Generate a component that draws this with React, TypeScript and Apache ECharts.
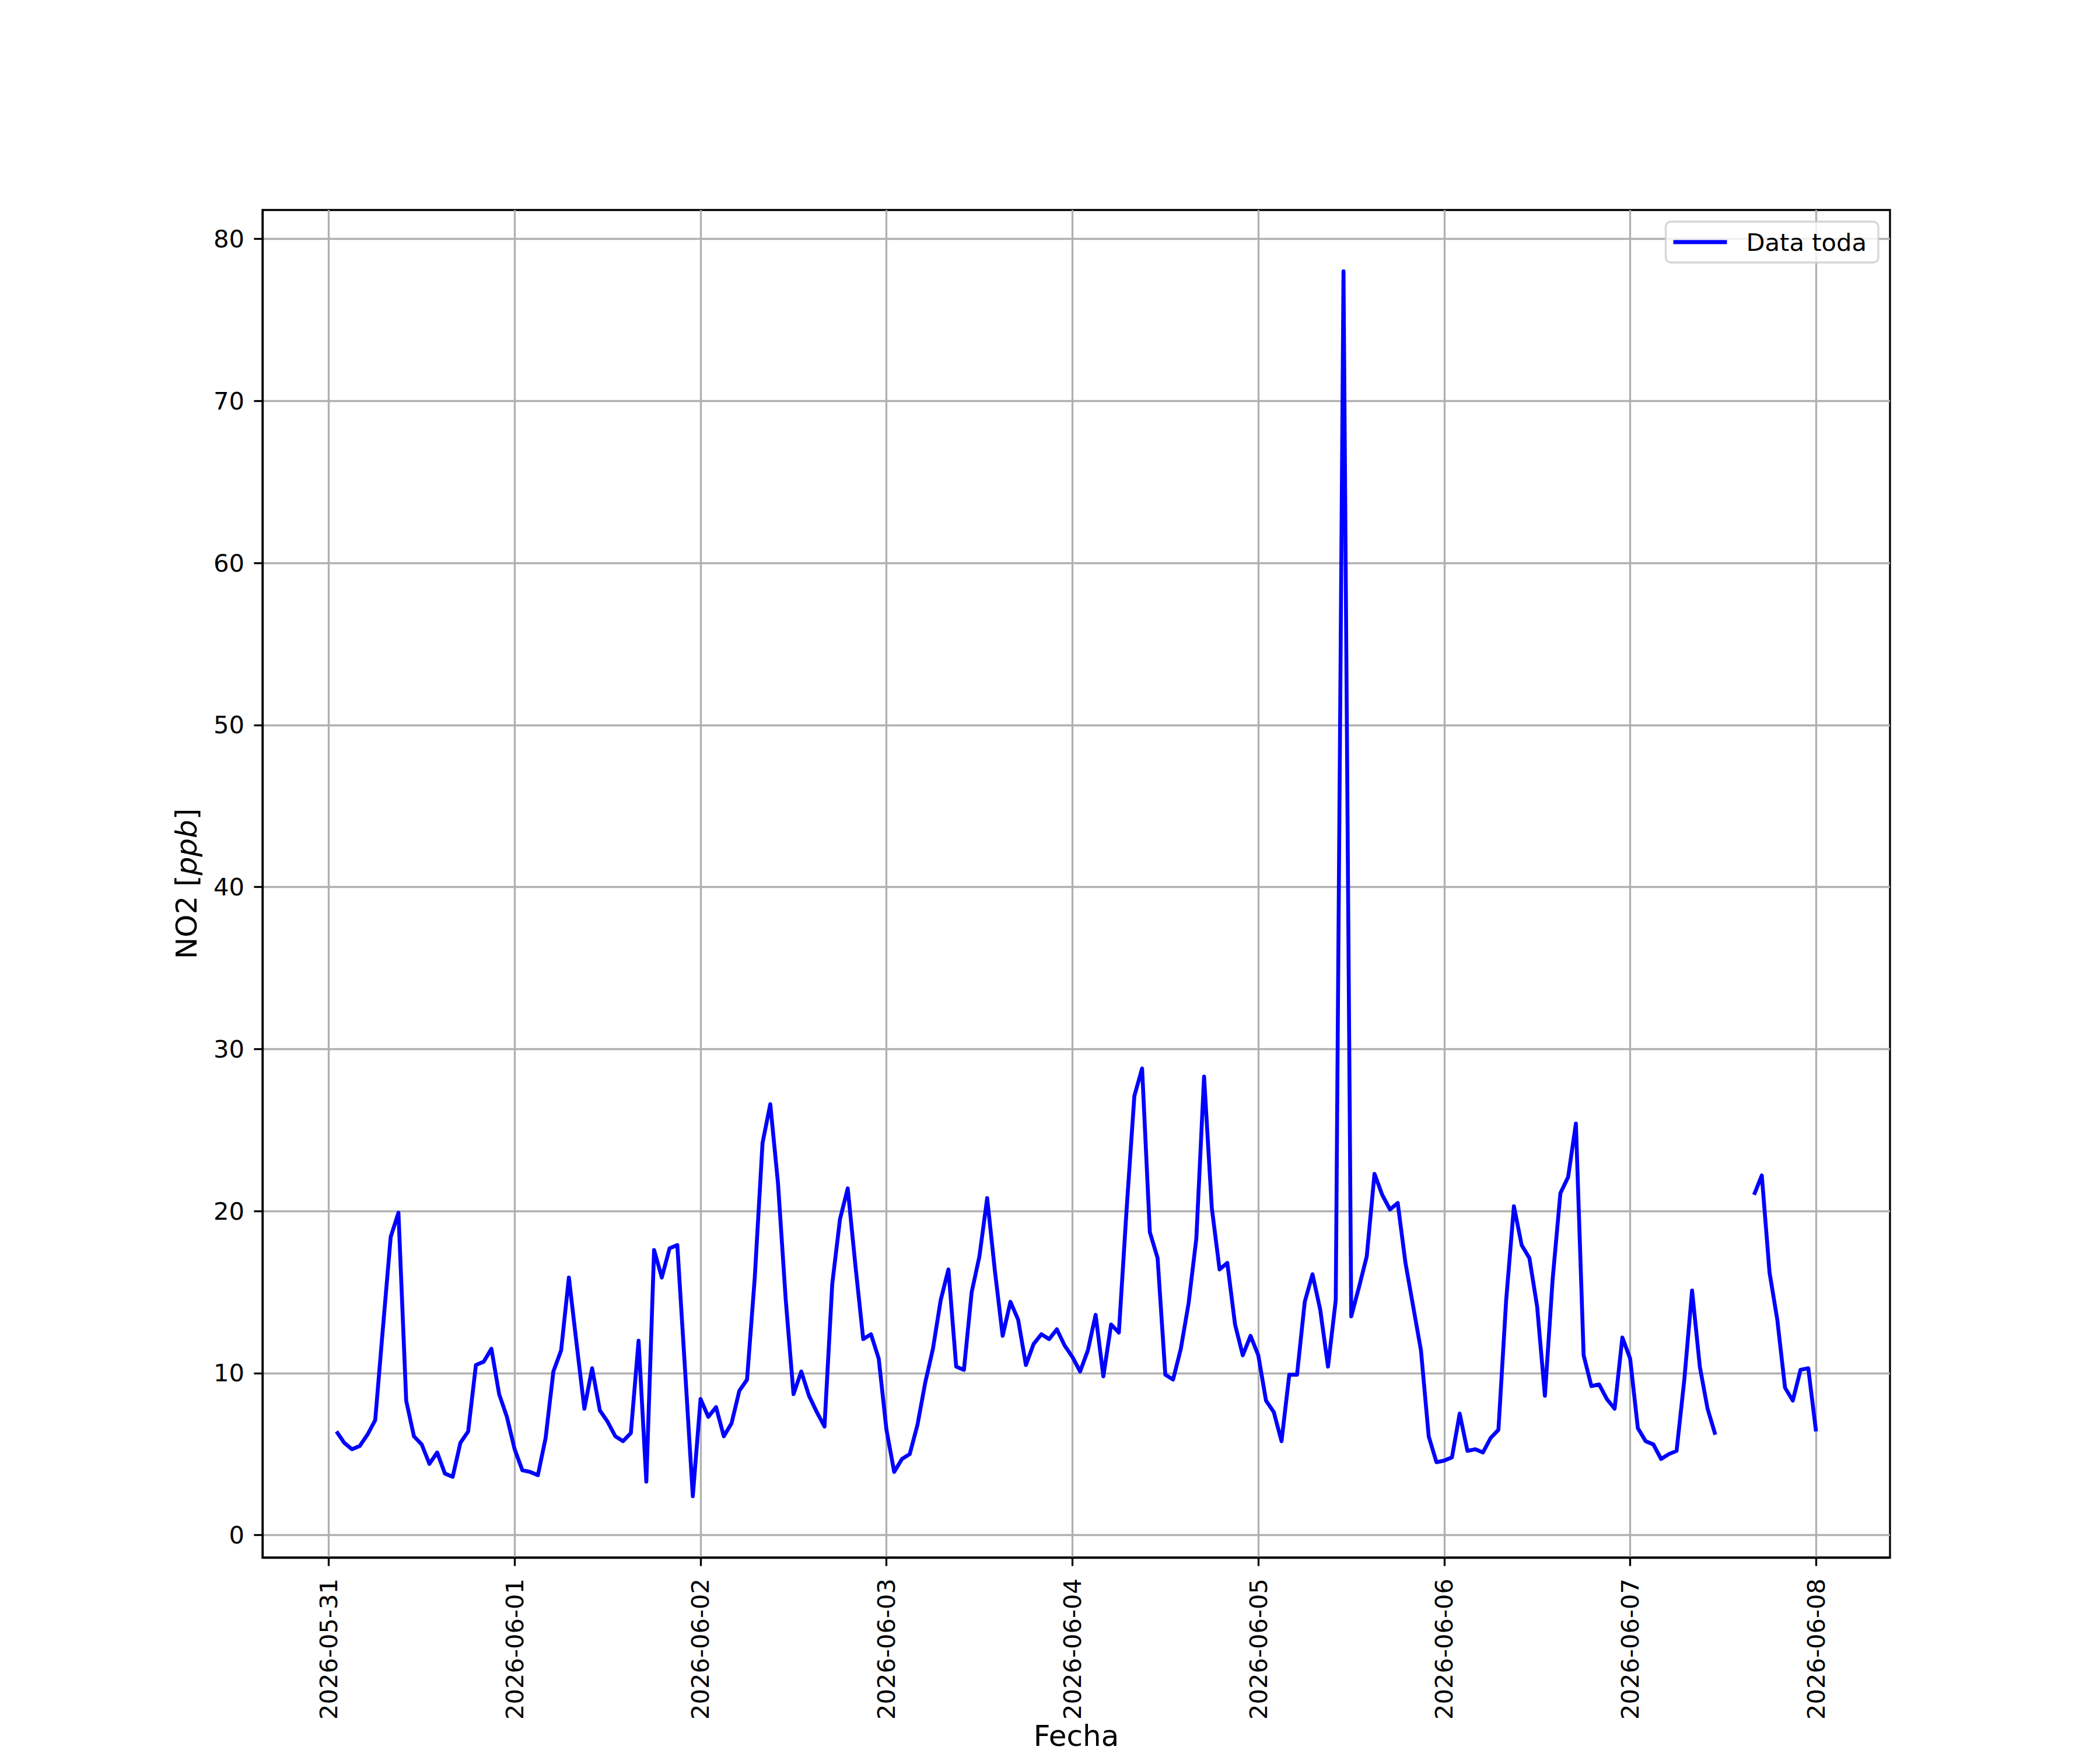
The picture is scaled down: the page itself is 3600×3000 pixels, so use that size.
import React, { useEffect, useRef } from 'react';
import * as echarts from 'echarts';

const HOUR = 3600000;
const firstTime = Date.UTC(2026, 4, 31, 1); // 2026-05-31 01:00 UTC, hourly samples

// hourly NO2 values, hours 01..24 of each day
const day0531 = [6.4, 5.7, 5.3, 5.5, 6.2, 7.1, 12.8, 18.4, 19.9, 8.3, 6.1, 5.6, 4.4, 5.1, 3.8, 3.6, 5.7, 6.4, 10.5, 10.7, 11.5, 8.7, 7.3, 5.3];
const day0601 = [4.0, 3.9, 3.7, 6.0, 10.1, 11.4, 15.9, 11.8, 7.8, 10.3, 7.7, 7.0, 6.1, 5.8, 6.3, 12.0, 3.3, 17.6, 15.9, 17.7, 17.9, 10.2, 2.4, 8.4];
const day0602 = [7.3, 7.9, 6.1, 6.9, 8.9, 9.6, 15.9, 24.2, 26.6, 21.7, 14.5, 8.7, 10.1, 8.6, 7.6, 6.7, 15.5, 19.5, 21.4, 16.6, 12.1, 12.4, 10.9, 6.5];
const day0603 = [3.9, 4.7, 5.0, 6.8, 9.4, 11.5, 14.5, 16.4, 10.4, 10.2, 15.0, 17.2, 20.8, 16.3, 12.3, 14.4, 13.3, 10.5, 11.8, 12.4, 12.1, 12.7, 11.7, 11.0];
const day0604 = [10.1, 11.4, 13.6, 9.8, 13.0, 12.5, 20.1, 27.1, 28.8, 18.7, 17.1, 9.9, 9.6, 11.5, 14.3, 18.3, 28.3, 20.2, 16.4, 16.8, 13.0, 11.1, 12.3, 11.1];
const day0605 = [8.3, 7.6, 5.8, 9.9, 9.9, 14.4, 16.1, 13.9, 10.4, 14.5, 78.0, 13.5, 15.3, 17.2, 22.3, 21.0, 20.1, 20.5, 16.8, 14.1, 11.4, 6.1, 4.5, 4.6];
const day0606 = [4.8, 7.5, 5.2, 5.3, 5.1, 6.0, 6.5, 14.5, 20.3, 17.9, 17.1, 14.1, 8.6, 15.8, 21.1, 22.1, 25.4, 11.1, 9.2, 9.3, 8.4, 7.8, 12.2, 10.9];
const day0607 = [6.6, 5.8, 5.6, 4.7, 5.0, 5.2, 9.6, 15.1, 10.4, 7.8, 6.2, null, null, null, null, 21.0, 22.2, 16.2, 13.3, 9.1, 8.3, 10.2, 10.3, 6.4];

const tickDays = ['2026-05-31', '2026-06-01', '2026-06-02', '2026-06-03', '2026-06-04', '2026-06-05', '2026-06-06', '2026-06-07', '2026-06-08'];
const yTicks = [0, 10, 20, 30, 40, 50, 60, 70, 80];
const seriesName = 'Data toda';
const xTitle = 'Fecha';

const values: (number | null)[] = [...day0531, ...day0601, ...day0602, ...day0603, ...day0604, ...day0605, ...day0606, ...day0607];

export default function App() {
  const ref = useRef<HTMLDivElement>(null);
  useEffect(() => {
    const chart = echarts.init(ref.current!, null, { renderer: 'svg' });
    const data = values.map((v, i) => [firstTime + i * HOUR, v]);
    const lastTime = firstTime + (values.length - 1) * HOUR;
    const xPad = (lastTime - firstTime) * 0.05;
    const nums = values.filter((v) => v !== null) as number[];
    const vMin = Math.min(...nums);
    const vMax = Math.max(...nums);
    const yPad = (vMax - vMin) * 0.05;
    const font = 'DejaVu Sans';
    const tickTs = tickDays.map((d) => Date.parse(d + 'T00:00:00Z'));

    chart.setOption({
      animation: false,
      backgroundColor: '#ffffff',
      textStyle: { fontFamily: font },
      grid: {
        left: 450,
        right: 360,
        top: 360,
        bottom: 330,
        show: true,
        borderColor: '#000000',
        borderWidth: 3.3,
        backgroundColor: 'transparent',
        containLabel: false,
        outerBoundsMode: 'none',
      },
      legend: {
        show: true,
        right: 380,
        top: 380,
        orient: 'vertical',
        icon: 'rect',
        itemWidth: 92,
        itemHeight: 7,
        padding: [14, 20, 14, 13],
        backgroundColor: 'rgba(255,255,255,0.8)',
        borderColor: 'rgba(204,204,204,0.8)',
        borderWidth: 3.3,
        borderRadius: 9,
        textStyle: {
          fontFamily: font,
          fontSize: 41.67,
          color: '#000000',
          padding: [0, 0, 0, 28],
        },
        data: [seriesName],
      },
      xAxis: {
        type: 'value',
        scale: true,
        min: firstTime - xPad,
        max: lastTime + xPad,
        name: xTitle,
        nameLocation: 'middle',
        nameGap: 284,
        nameMoveOverlap: false,
        nameTextStyle: { fontFamily: font, fontSize: 50, lineHeight: 44, color: '#000000', verticalAlign: 'top' },
        axisLine: { show: true, onZero: false, lineStyle: { color: '#000000', width: 3.3 } },
        axisTick: {
          show: true,
          length: 14.6,
          lineStyle: { color: '#000000', width: 3.3 },
          customValues: tickTs,
        },
        axisLabel: {
          show: true,
          rotate: 90,
          margin: 36,
          fontFamily: font,
          fontSize: 41.67,
          color: '#000000',
          customValues: tickTs,
          formatter: (v: number) => new Date(v).toISOString().slice(0, 10),
        },
        splitLine: { show: true, lineStyle: { color: '#b0b0b0', width: 3.3 } },
      },
      yAxis: {
        type: 'value',
        min: vMin - yPad,
        max: vMax + yPad,
        name: '{a|NO2 [}{b|ppb}{a|]}',
        nameLocation: 'middle',
        nameGap: 105,
        nameRotate: 90,
        nameMoveOverlap: false,
        nameTextStyle: {
          fontFamily: font,
          fontSize: 50,
          color: '#000000',
          rich: {
            a: { fontFamily: font, fontSize: 50, color: '#000000' },
            b: { fontFamily: font, fontSize: 50, color: '#000000', fontStyle: 'italic' },
          },
        },
        axisLine: { show: true, onZero: false, lineStyle: { color: '#000000', width: 3.3 } },
        axisTick: {
          show: true,
          length: 14.6,
          lineStyle: { color: '#000000', width: 3.3 },
          customValues: yTicks,
        },
        axisLabel: {
          show: true,
          margin: 31,
          fontFamily: font,
          fontSize: 41.67,
          color: '#000000',
          customValues: yTicks,
        },
        splitLine: { show: true, lineStyle: { color: '#b0b0b0', width: 3.3 } },
      },
      series: [
        {
          name: seriesName,
          type: 'line',
          data,
          showSymbol: false,
          connectNulls: false,
          lineStyle: { color: '#0000ff', width: 6.67, join: 'round', cap: 'butt' },
          itemStyle: { color: '#0000ff' },
        },
      ],
    });
    return () => chart.dispose();
  }, []);
  return (
    <div
      ref={ref}
      style={{ position: 'absolute', left: 0, top: 0, width: 3600, height: 3000, background: '#ffffff' }}
    />
  );
}
